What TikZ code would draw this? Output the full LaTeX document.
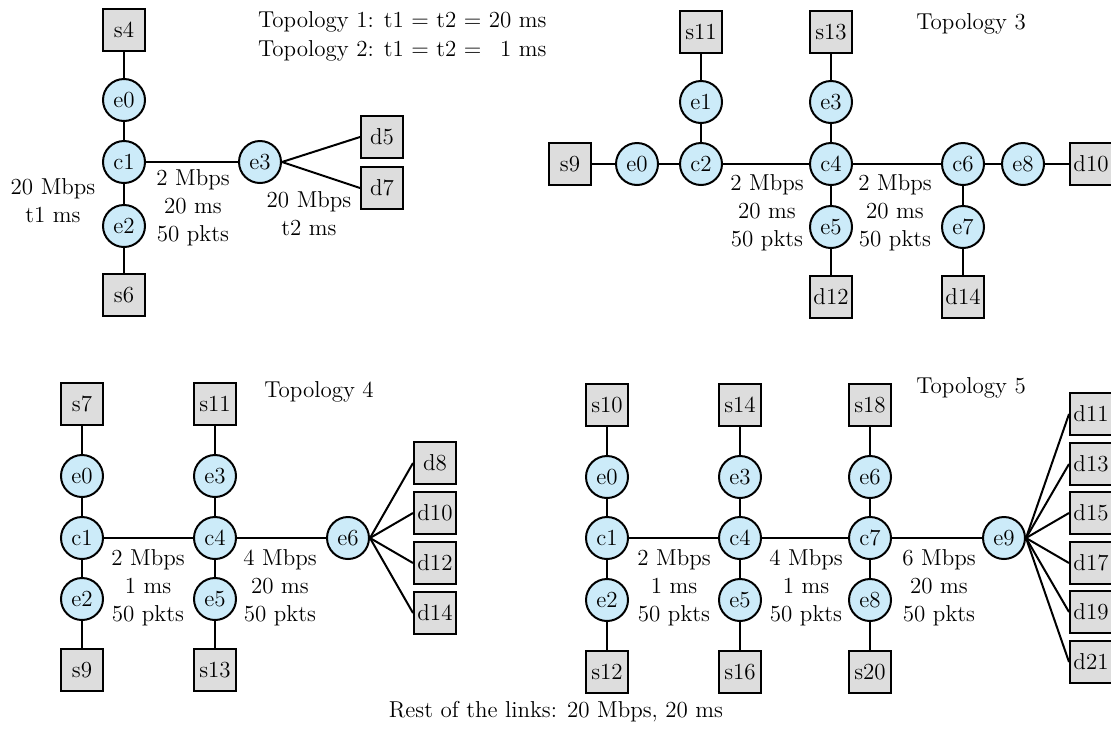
\documentclass[tikz,border=0pt]{standalone}
\definecolor{routerblue}{RGB}{204,235,249}
\definecolor{hostgray}{RGB}{221,221,221}
\begin{document}
\begin{tikzpicture}[x=0.5pt, y=-0.5pt,
   every node/.style={font=\fontsize{11.5}{14}\selectfont},
   rtr/.style={circle, draw, line width=1pt, fill=routerblue, minimum size=21pt, inner sep=0pt},
   host/.style={rectangle, draw, line width=1pt, fill=hostgray, minimum size=21pt, inner sep=1pt},
   link/.style={line width=1pt},
   linkinfo/.style={align=center}]
   \useasboundingbox (0,0) rectangle (1111,740);
   % topology 1 and 2
   \node[host] (as4) at (124,30) {s4};
   \node[rtr]  (ae0) at (124,100) {e0};
   \node[rtr]  (ac1) at (124,162) {c1};
   \node[rtr]  (ae2) at (124,226) {e2};
   \node[host] (as6) at (124,295) {s6};
   \node[rtr]  (ae3) at (260,162) {e3};
   \node[host] (ad5) at (382,137) {d5};
   \node[host] (ad7) at (382,188) {d7};
   \draw[link] (as4) -- (ae0) -- (ac1) -- (ae2) -- (as6);
   \draw[link] (ac1) -- (ae3);
   \draw[link] (ae3.east) -- (ad5.west);
   \draw[link] (ae3.east) -- (ad7.west);
   \node[linkinfo] (ainfo1) at (53,201) {20 Mbps\\t1 ms};
   \node[linkinfo] (ainfo2) at (193,208) {2 Mbps\\20 ms\\50 pkts};
   \node[linkinfo] (ainfo3) at (309,214) {20 Mbps\\t2 ms};
   \node[anchor=west] (atitle1) at (251,22) {Topology 1: t1 = t2 = 20 ms};
   \node[anchor=west] (atitle2) at (251,51) {Topology 2: t1 = t2 = \phantom{2}1 ms};
   % topology 3
   \node[host] (bs9)  at (570,164) {s9};
   \node[rtr]  (be0)  at (637,164) {e0};
   \node[rtr]  (bc2)  at (701,164) {c2};
   \node[rtr]  (be1)  at (701,102) {e1};
   \node[host] (bs11) at (701,32)  {s11};
   \node[rtr]  (bc4)  at (831,164) {c4};
   \node[rtr]  (be3)  at (831,102) {e3};
   \node[host] (bs13) at (831,32)  {s13};
   \node[rtr]  (be5)  at (831,227) {e5};
   \node[host] (bd12) at (831,297) {d12};
   \node[rtr]  (bc6)  at (963,164) {c6};
   \node[rtr]  (be7)  at (963,227) {e7};
   \node[host] (bd14) at (963,297) {d14};
   \node[rtr]  (be8)  at (1023,164) {e8};
   \node[host] (bd10) at (1091,164) {d10};
   \draw[link] (bs9) -- (be0) -- (bc2) -- (bc4) -- (bc6) -- (be8) -- (bd10);
   \draw[link] (bs11) -- (be1) -- (bc2);
   \draw[link] (bs13) -- (be3) -- (bc4) -- (be5) -- (bd12);
   \draw[link] (bc6) -- (be7) -- (bd14);
   \node[linkinfo] (binfo1) at (767,213) {2 Mbps\\20 ms\\50 pkts};
   \node[linkinfo] (binfo2) at (895,213) {2 Mbps\\20 ms\\50 pkts};
   \node (btitle) at (971,24) {Topology 3};
   % topology 4
   \node[host] (cs7)  at (82,404) {s7};
   \node[rtr]  (ce0)  at (82,476) {e0};
   \node[rtr]  (cc1)  at (82,538) {c1};
   \node[rtr]  (ce2)  at (82,599) {e2};
   \node[host] (cs9)  at (82,670) {s9};
   \node[host] (cs11) at (215,404) {s11};
   \node[rtr]  (ce3)  at (215,476) {e3};
   \node[rtr]  (cc4)  at (215,538) {c4};
   \node[rtr]  (ce5)  at (215,599) {e5};
   \node[host] (cs13) at (215,670) {s13};
   \node[rtr]  (ce6)  at (348,538) {e6};
   \node[host] (cd8)  at (435,463) {d8};
   \node[host] (cd10) at (435,513) {d10};
   \node[host] (cd12) at (435,563) {d12};
   \node[host] (cd14) at (435,613) {d14};
   \draw[link] (cs7) -- (ce0) -- (cc1) -- (ce2) -- (cs9);
   \draw[link] (cs11) -- (ce3) -- (cc4) -- (ce5) -- (cs13);
   \draw[link] (cc1) -- (cc4) -- (ce6);
   \draw[link] (ce6.east) -- (cd8.west);
   \draw[link] (ce6.east) -- (cd10.west);
   \draw[link] (ce6.east) -- (cd12.west);
   \draw[link] (ce6.east) -- (cd14.west);
   \node[linkinfo] (cinfo1) at (148,588) {2 Mbps\\1 ms\\50 pkts};
   \node[linkinfo] (cinfo2) at (280,588) {4 Mbps\\20 ms\\50 pkts};
   \node (ctitle) at (319,392) {Topology 4};
   % topology 5
   \node[host] (ds10) at (607,405) {s10};
   \node[rtr]  (de0)  at (607,477) {e0};
   \node[rtr]  (dc1)  at (607,538) {c1};
   \node[rtr]  (de2)  at (607,600) {e2};
   \node[host] (ds12) at (607,672) {s12};
   \node[host] (ds14) at (740,405) {s14};
   \node[rtr]  (de3)  at (740,477) {e3};
   \node[rtr]  (dc4)  at (740,538) {c4};
   \node[rtr]  (de5)  at (740,600) {e5};
   \node[host] (ds16) at (740,672) {s16};
   \node[host] (ds18) at (870,405) {s18};
   \node[rtr]  (de6)  at (870,477) {e6};
   \node[rtr]  (dc7)  at (870,538) {c7};
   \node[rtr]  (de8)  at (870,600) {e8};
   \node[host] (ds20) at (870,672) {s20};
   \node[rtr]  (de9)  at (1004,538) {e9};
   \node[host] (dd11) at (1091,414) {d11};
   \node[host] (dd13) at (1091,464) {d13};
   \node[host] (dd15) at (1091,513) {d15};
   \node[host] (dd17) at (1091,563) {d17};
   \node[host] (dd19) at (1091,612) {d19};
   \node[host] (dd21) at (1091,662) {d21};
   \draw[link] (ds10) -- (de0) -- (dc1) -- (de2) -- (ds12);
   \draw[link] (ds14) -- (de3) -- (dc4) -- (de5) -- (ds16);
   \draw[link] (ds18) -- (de6) -- (dc7) -- (de8) -- (ds20);
   \draw[link] (dc1) -- (dc4) -- (dc7) -- (de9);
   \draw[link] (de9.east) -- (dd11.west);
   \draw[link] (de9.east) -- (dd13.west);
   \draw[link] (de9.east) -- (dd15.west);
   \draw[link] (de9.east) -- (dd17.west);
   \draw[link] (de9.east) -- (dd19.west);
   \draw[link] (de9.east) -- (dd21.west);
   \node[linkinfo] (dinfo1) at (674,588) {2 Mbps\\1 ms\\50 pkts};
   \node[linkinfo] (dinfo2) at (806,588) {4 Mbps\\1 ms\\50 pkts};
   \node[linkinfo] (dinfo3) at (939,588) {6 Mbps\\20 ms\\50 pkts};
   \node (dtitle) at (971,388) {Topology 5};
   \node (rest) at (556,712) {Rest of the links: 20 Mbps, 20 ms};
\end{tikzpicture}
\end{document}
